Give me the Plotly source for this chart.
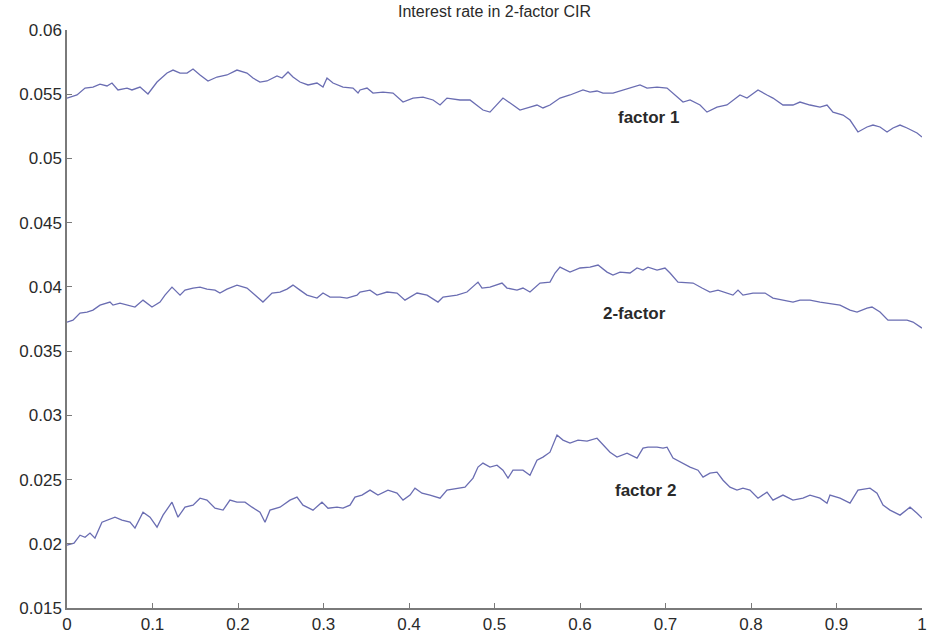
import plotly.graph_objects as go

# Simulated short-rate paths in a two-factor CIR model (time in years)
t_factor1 = [0.0, 0.0117, 0.0211, 0.0304, 0.0386, 0.0468, 0.0526, 0.0596, 0.0702, 0.0760, 0.0854, 0.0947,
             0.1053, 0.1170, 0.1240, 0.1322, 0.1404, 0.1474, 0.1556, 0.1649, 0.1754, 0.1871, 0.1988, 0.2105,
             0.2175, 0.2257, 0.2339, 0.2456, 0.2515, 0.2585, 0.2643, 0.2725, 0.2819, 0.2924, 0.2994, 0.3041,
             0.3111, 0.3228, 0.3345, 0.3404, 0.3427, 0.3509, 0.3579, 0.3696, 0.3813, 0.3930, 0.4047, 0.4164,
             0.4281, 0.4363, 0.4444, 0.4596, 0.4713, 0.4795, 0.4865, 0.4947, 0.5029, 0.5099, 0.5216, 0.5298,
             0.5415, 0.5497, 0.5567, 0.5649, 0.5766, 0.5883, 0.6035, 0.6117, 0.6199, 0.6269, 0.6386, 0.6503,
             0.6620, 0.6702, 0.6784, 0.6901, 0.7018, 0.7088, 0.7205, 0.7287, 0.7404, 0.7485, 0.7602, 0.7719,
             0.7789, 0.7871, 0.7953, 0.8082, 0.8187, 0.8257, 0.8374, 0.8491, 0.8573, 0.8690, 0.8807, 0.8889,
             0.8959, 0.9076, 0.9158, 0.9251, 0.9357, 0.9427, 0.9509, 0.9591, 0.9661, 0.9743, 0.9825, 0.9942,
             1.0]
r_factor1 = [0.05470, 0.05494, 0.05548, 0.05556, 0.05579, 0.05564, 0.05587, 0.05533, 0.05548, 0.05533, 0.05556,
             0.05502, 0.05595, 0.05665, 0.05688, 0.05665, 0.05665, 0.05696, 0.05650, 0.05603, 0.05634, 0.05650,
             0.05688, 0.05665, 0.05626, 0.05595, 0.05603, 0.05642, 0.05626, 0.05673, 0.05634, 0.05595, 0.05572,
             0.05587, 0.05556, 0.05626, 0.05587, 0.05556, 0.05548, 0.05509, 0.05533, 0.05548, 0.05509, 0.05517,
             0.05509, 0.05439, 0.05470, 0.05478, 0.05455, 0.05416, 0.05470, 0.05455, 0.05455, 0.05416, 0.05377,
             0.05361, 0.05416, 0.05470, 0.05416, 0.05377, 0.05400, 0.05416, 0.05393, 0.05416, 0.05470, 0.05494,
             0.05533, 0.05517, 0.05525, 0.05509, 0.05509, 0.05533, 0.05556, 0.05572, 0.05548, 0.05556, 0.05548,
             0.05509, 0.05439, 0.05455, 0.05416, 0.05361, 0.05400, 0.05416, 0.05455, 0.05494, 0.05470, 0.05533,
             0.05494, 0.05470, 0.05416, 0.05416, 0.05439, 0.05416, 0.05400, 0.05416, 0.05361, 0.05338, 0.05299,
             0.05206, 0.05245, 0.05260, 0.05245, 0.05206, 0.05237, 0.05260, 0.05237, 0.05198, 0.05167]

t_two_factor = [0.0, 0.0070, 0.0152, 0.0234, 0.0304, 0.0386, 0.0503, 0.0538, 0.0620, 0.0702, 0.0795, 0.0889,
                0.0994, 0.1088, 0.1146, 0.1228, 0.1322, 0.1380, 0.1474, 0.1556, 0.1637, 0.1731, 0.1789, 0.1871,
                0.1988, 0.2105, 0.2199, 0.2292, 0.2398, 0.2491, 0.2573, 0.2643, 0.2725, 0.2807, 0.2924, 0.2994,
                0.3076, 0.3193, 0.3275, 0.3392, 0.3427, 0.3544, 0.3626, 0.3743, 0.3860, 0.3953, 0.4094, 0.4211,
                0.4339, 0.4398, 0.4561, 0.4678, 0.4807, 0.4854, 0.4947, 0.5088, 0.5146, 0.5263, 0.5333, 0.5415,
                0.5532, 0.5649, 0.5708, 0.5766, 0.5883, 0.6000, 0.6117, 0.6211, 0.6316, 0.6386, 0.6468, 0.6585,
                0.6667, 0.6737, 0.6795, 0.6901, 0.6994, 0.7053, 0.7146, 0.7251, 0.7322, 0.7427, 0.7520, 0.7614,
                0.7719, 0.7789, 0.7848, 0.7906, 0.8023, 0.8164, 0.8257, 0.8374, 0.8491, 0.8573, 0.8690, 0.8807,
                0.8901, 0.9041, 0.9158, 0.9240, 0.9357, 0.9415, 0.9509, 0.9602, 0.9708, 0.9825, 0.9895, 1.0]
r_two_factor = [0.03726, 0.03741, 0.03796, 0.03804, 0.03819, 0.03858, 0.03882, 0.03858, 0.03874, 0.03858, 0.03843,
                0.03897, 0.03843, 0.03882, 0.03936, 0.03998, 0.03936, 0.03975, 0.03991, 0.03998, 0.03983, 0.03975,
                0.03952, 0.03983, 0.04014, 0.03991, 0.03936, 0.03882, 0.03952, 0.03960, 0.03983, 0.04014, 0.03975,
                0.03936, 0.03913, 0.03952, 0.03921, 0.03921, 0.03913, 0.03936, 0.03960, 0.03975, 0.03936, 0.03960,
                0.03952, 0.03897, 0.03952, 0.03936, 0.03882, 0.03921, 0.03936, 0.03960, 0.04037, 0.03991, 0.03998,
                0.04030, 0.03991, 0.03975, 0.03991, 0.03960, 0.04030, 0.04037, 0.04108, 0.04154, 0.04115, 0.04147,
                0.04154, 0.04170, 0.04115, 0.04092, 0.04115, 0.04108, 0.04147, 0.04131, 0.04154, 0.04131, 0.04147,
                0.04108, 0.04037, 0.04030, 0.04030, 0.03991, 0.03960, 0.03975, 0.03952, 0.03936, 0.03975, 0.03936,
                0.03952, 0.03952, 0.03913, 0.03897, 0.03882, 0.03897, 0.03897, 0.03882, 0.03874, 0.03858, 0.03819,
                0.03804, 0.03835, 0.03843, 0.03804, 0.03741, 0.03741, 0.03741, 0.03726, 0.03679]

t_factor2 = [0.0, 0.0082, 0.0152, 0.0211, 0.0269, 0.0327, 0.0409, 0.0480, 0.0561, 0.0643, 0.0737, 0.0795,
             0.0889, 0.0971, 0.1053, 0.1123, 0.1228, 0.1298, 0.1380, 0.1474, 0.1556, 0.1637, 0.1731, 0.1825,
             0.1906, 0.1988, 0.2082, 0.2164, 0.2257, 0.2316, 0.2374, 0.2491, 0.2608, 0.2690, 0.2760, 0.2877,
             0.2982, 0.3053, 0.3158, 0.3228, 0.3310, 0.3368, 0.3450, 0.3544, 0.3637, 0.3754, 0.3860, 0.3930,
             0.4012, 0.4070, 0.4152, 0.4246, 0.4363, 0.4444, 0.4561, 0.4655, 0.4749, 0.4807, 0.4865, 0.4947,
             0.5029, 0.5099, 0.5158, 0.5216, 0.5333, 0.5415, 0.5497, 0.5567, 0.5649, 0.5731, 0.5801, 0.5883,
             0.5977, 0.6082, 0.6199, 0.6269, 0.6351, 0.6433, 0.6550, 0.6667, 0.6737, 0.6795, 0.6901, 0.6971,
             0.7018, 0.7088, 0.7205, 0.7287, 0.7380, 0.7439, 0.7520, 0.7602, 0.7673, 0.7754, 0.7836, 0.7906,
             0.7988, 0.8082, 0.8187, 0.8257, 0.8374, 0.8491, 0.8608, 0.8690, 0.8807, 0.8889, 0.8924, 0.9041,
             0.9158, 0.9251, 0.9392, 0.9474, 0.9544, 0.9626, 0.9743, 0.9860, 0.9942, 1.0]
r_factor2 = [0.01989, 0.02005, 0.02067, 0.02051, 0.02083, 0.02044, 0.02168, 0.02184, 0.02207, 0.02184, 0.02168,
             0.02122, 0.02246, 0.02207, 0.02129, 0.02223, 0.02324, 0.02207, 0.02285, 0.02301, 0.02355, 0.02340,
             0.02277, 0.02262, 0.02340, 0.02324, 0.02324, 0.02285, 0.02246, 0.02168, 0.02262, 0.02285, 0.02340,
             0.02363, 0.02301, 0.02262, 0.02324, 0.02277, 0.02285, 0.02277, 0.02301, 0.02363, 0.02379, 0.02418,
             0.02379, 0.02418, 0.02394, 0.02340, 0.02379, 0.02433, 0.02394, 0.02379, 0.02355, 0.02418, 0.02433,
             0.02441, 0.02511, 0.02597, 0.02628, 0.02597, 0.02612, 0.02573, 0.02511, 0.02573, 0.02573, 0.02534,
             0.02651, 0.02675, 0.02713, 0.02846, 0.02807, 0.02784, 0.02807, 0.02799, 0.02822, 0.02768, 0.02713,
             0.02675, 0.02706, 0.02667, 0.02745, 0.02752, 0.02752, 0.02745, 0.02752, 0.02667, 0.02628, 0.02597,
             0.02573, 0.02519, 0.02550, 0.02558, 0.02495, 0.02441, 0.02418, 0.02433, 0.02418, 0.02355, 0.02402,
             0.02340, 0.02379, 0.02340, 0.02355, 0.02379, 0.02355, 0.02316, 0.02379, 0.02355, 0.02316, 0.02418,
             0.02433, 0.02394, 0.02301, 0.02262, 0.02223, 0.02285, 0.02238, 0.02200]

x_ticks = [0, 0.1, 0.2, 0.3, 0.4, 0.5, 0.6, 0.7, 0.8, 0.9, 1]
x_tick_text = ["0", "0.1", "0.2", "0.3", "0.4", "0.5", "0.6", "0.7", "0.8", "0.9", "1"]
y_ticks = [0.015, 0.02, 0.025, 0.03, 0.035, 0.04, 0.045, 0.05, 0.055, 0.06]
y_tick_text = ["0.015", "0.02", "0.025", "0.03", "0.035", "0.04", "0.045", "0.05", "0.055", "0.06"]

series_labels = ["factor 1", "2-factor", "factor 2"]
label_x = [0.680, 0.664, 0.677]
label_y = [0.05322, 0.03796, 0.02418]

LINE_COLOR = "#6a6db2"
FONT = "Liberation Sans, Arial, sans-serif"
TEXT_COLOR = "#2a2a2a"

fig = go.Figure()
for t, r in [(t_factor1, r_factor1), (t_two_factor, r_two_factor), (t_factor2, r_factor2)]:
    fig.add_trace(go.Scatter(x=t, y=r, mode="lines",
                             line=dict(color=LINE_COLOR, width=1.3),
                             showlegend=False, hoverinfo="skip", cliponaxis=False))

for text, lx, ly in zip(series_labels, label_x, label_y):
    fig.add_annotation(x=lx, y=ly, text=f"<b>{text}</b>", showarrow=False,
                       font=dict(family=FONT, size=17, color=TEXT_COLOR),
                       xanchor="center", yanchor="middle")

fig.update_layout(
    width=927, height=641,
    margin=dict(l=67, r=5, t=30, b=33, autoexpand=False),
    paper_bgcolor="white", plot_bgcolor="white",
    title=dict(text="Interest rate in 2-factor CIR", x=0.5, xref="paper",
               y=1 - 11 / 641, yref="container", yanchor="middle", xanchor="center",
               font=dict(family=FONT, size=16, color=TEXT_COLOR)),
    font=dict(family=FONT, size=17, color=TEXT_COLOR),
)
axis_style = dict(showgrid=False, zeroline=False, showline=True, linecolor="#7a7a7a", linewidth=1.5,
                  ticks="inside", ticklen=5, tickcolor="#7a7a7a", mirror=False, automargin=False,
                  tickfont=dict(family=FONT, size=17, color=TEXT_COLOR))
fig.update_xaxes(range=[0, 1], tickvals=x_ticks, ticktext=x_tick_text, **axis_style)
fig.update_yaxes(range=[0.015, 0.06], tickvals=y_ticks, ticktext=y_tick_text, **axis_style)

fig.write_html("out.html")
